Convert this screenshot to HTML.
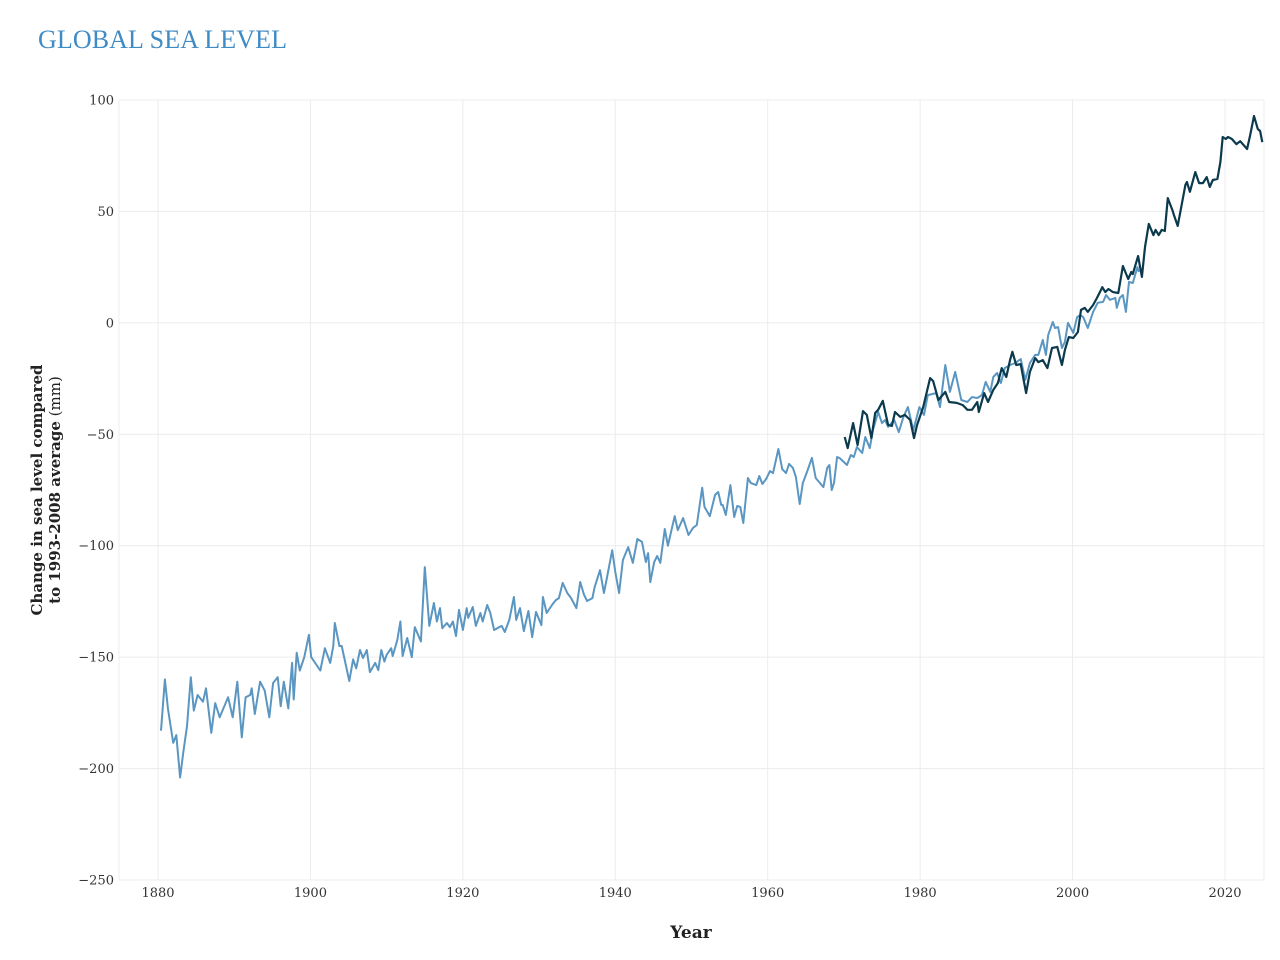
<!DOCTYPE html>
<html><head><meta charset="utf-8"><style>
html,body{margin:0;padding:0;background:#fff;}
body{width:1280px;height:960px;overflow:hidden;position:relative;font-family:"DejaVu Serif","Liberation Serif",serif;}
#title{position:absolute;left:38px;top:25px;font-family:"Liberation Serif",serif;font-size:26px;color:#3f8bc5;letter-spacing:0.1px;}
svg{position:absolute;left:0;top:0;}
</style></head><body>
<div id="title">GLOBAL SEA LEVEL</div>
<svg id="chart" width="1280" height="960"></svg>
<script>
const xTicks=[1880,1900,1920,1940,1960,1980,2000,2020];
const yTicks=[100,50,0,-50,-100,-150,-200,-250];
const histYears=[1880.4,1880.9,1881.3,1882.0,1882.4,1882.9,1883.3,1883.8,1884.3,1884.7,1885.2,1885.9,1886.3,1887.0,1887.5,1888.1,1889.2,1889.8,1890.4,1891.0,1891.5,1892.1,1892.3,1892.7,1893.4,1894.0,1894.6,1895.1,1895.7,1896.1,1896.5,1897.1,1897.6,1897.8,1898.2,1898.6,1899.2,1899.8,1900.1,1901.3,1901.9,1902.6,1903.0,1903.2,1903.8,1904.1,1905.1,1905.6,1906.0,1906.5,1906.9,1907.4,1907.8,1908.5,1908.9,1909.3,1909.7,1910.0,1910.6,1910.8,1911.4,1911.8,1912.1,1912.7,1913.3,1913.7,1914.5,1915.0,1915.6,1916.2,1916.6,1917.0,1917.3,1917.9,1918.3,1918.7,1919.1,1919.5,1920.0,1920.5,1920.7,1921.3,1921.7,1922.3,1922.6,1923.2,1923.6,1924.1,1924.5,1925.1,1925.5,1926.1,1926.7,1927.0,1927.5,1928.0,1928.6,1929.1,1929.6,1930.3,1930.5,1931.0,1931.7,1932.2,1932.6,1933.1,1933.7,1934.2,1934.9,1935.4,1935.9,1936.3,1937.0,1937.3,1938.0,1938.5,1938.9,1939.6,1940.0,1940.5,1941.0,1941.7,1942.3,1942.9,1943.5,1944.0,1944.3,1944.6,1945.1,1945.5,1945.9,1946.5,1946.9,1947.8,1948.2,1948.9,1949.6,1950.2,1950.7,1951.4,1951.7,1952.4,1953.1,1953.5,1953.9,1954.1,1954.5,1955.1,1955.6,1956.0,1956.4,1956.8,1957.4,1957.8,1958.5,1958.9,1959.3,1959.8,1960.3,1960.7,1961.4,1961.9,1962.4,1962.8,1963.3,1963.7,1964.2,1964.6,1965.2,1965.8,1966.3,1967.3,1967.8,1968.1,1968.4,1968.7,1969.1,1969.4,1970.4,1970.9,1971.3,1971.7,1972.4,1972.8,1973.4,1973.8,1974.5,1975.0,1975.4,1975.8,1976.6,1977.2,1977.8,1978.4,1979.1,1979.9,1980.5,1981.0,1982.1,1982.6,1983.3,1983.9,1984.6,1985.4,1986.2,1986.8,1987.5,1988.1,1988.6,1989.2,1989.6,1990.1,1990.6,1991.1,1991.8,1992.5,1993.2,1993.8,1994.4,1995.1,1995.5,1996.1,1996.5,1996.8,1997.4,1997.7,1998.1,1998.6,1999.0,1999.4,2000.1,2000.6,2001.0,2001.4,2002.0,2002.7,2003.3,2004.0,2004.4,2004.9,2005.6,2005.8,2006.2,2006.6,2007.0,2007.4,2007.9,2008.5,2008.7];
const histValues=[-183,-160,-173,-188.5,-185,-204,-193,-181,-159,-174,-167,-170,-164,-184,-170.6,-177,-168,-177,-161,-186,-168,-167,-164,-175.5,-161,-165,-177,-161.6,-159,-172,-161,-173,-152.6,-169,-148,-156,-150,-140,-150,-156,-146,-152.6,-145,-134.7,-145,-145,-160.7,-151,-155,-146.8,-150.4,-146.8,-156.7,-152.6,-155.8,-146.8,-152,-149,-146,-149.5,-142.3,-134,-149.5,-141.4,-150,-136.5,-143,-109.6,-136,-125.7,-134,-128,-137,-134.7,-136.5,-134,-140.5,-128.8,-137.8,-128,-132.4,-127.5,-136,-130.2,-134,-126.6,-130.2,-137.8,-137,-136,-138.7,-133.3,-123,-133.3,-128,-138.3,-129.3,-141,-129.7,-135.6,-123,-130.2,-126.6,-124.4,-123.5,-116.7,-121.2,-123.5,-128,-116.3,-122,-124.8,-123.5,-118.5,-111,-121.2,-114.5,-102,-111.8,-121.2,-106.4,-100.6,-107.7,-97,-98.3,-107.3,-103.3,-116.3,-107.3,-104.6,-107.7,-92.5,-100,-86.7,-93,-87.6,-95.2,-92,-90.7,-74,-82.6,-86.7,-77.2,-75.9,-81.7,-81.7,-86.2,-72.8,-87.1,-82.2,-82.6,-89.8,-69.6,-71.9,-72.8,-68.7,-72.3,-70,-66.5,-67.4,-56.6,-65.6,-67.4,-63.3,-65.1,-69.2,-81.3,-71.9,-66.5,-60.6,-69.6,-73.7,-65.1,-63.8,-75,-71.9,-60.2,-60.6,-63.8,-59.3,-60.2,-55.7,-58.4,-51.2,-56.2,-48.1,-40,-45,-43.6,-46.7,-43.6,-49,-42.2,-37.8,-48.1,-37.8,-41.3,-32.4,-31.5,-37.8,-18.9,-31,-22,-34.6,-35.5,-33.3,-33.7,-32.4,-26.5,-31,-24.3,-22.5,-27,-20.3,-18.9,-18,-16.2,-25.6,-18,-14.4,-14.4,-7.7,-14.4,-5.4,0.4,-2.3,-1.9,-11.3,-8.6,0,-4.5,2.6,3.5,2.6,-2.3,4.9,9,9.4,12.5,10.3,11.2,6.7,11.2,12.5,4.9,18.4,17.9,25,22.8];
const satYears=[1970.1,1970.5,1971.2,1971.8,1972.5,1973.0,1973.6,1974.1,1974.5,1975.1,1975.8,1976.3,1976.7,1977.4,1978.0,1978.7,1979.2,1979.6,1980.4,1981.3,1981.7,1982.4,1983.3,1983.8,1984.8,1985.6,1986.2,1986.8,1987.5,1987.7,1988.4,1988.9,1989.6,1990.2,1990.7,1991.3,1991.8,1992.1,1992.6,1993.2,1993.9,1994.4,1995.1,1995.5,1996.1,1996.7,1997.3,1998.0,1998.6,1999.0,1999.5,2000.1,2000.7,2001.1,2001.6,2002.0,2002.7,2003.2,2003.9,2004.3,2004.7,2005.3,2006.0,2006.6,2007.3,2007.7,2007.9,2008.6,2009.1,2009.5,2010.0,2010.6,2010.9,2011.3,2011.7,2012.1,2012.5,2013.1,2013.3,2013.8,2014.8,2015.0,2015.4,2016.1,2016.6,2017.1,2017.6,2018.0,2018.4,2019.0,2019.4,2019.7,2020.1,2020.4,2020.9,2021.5,2022.0,2022.9,2023.3,2023.8,2024.3,2024.6,2024.9];
const satValues=[-51.2,-56.2,-45,-54.8,-39.6,-41.3,-51.7,-40.4,-39,-35,-45.8,-46.3,-40,-42.2,-41.3,-43.6,-51.7,-45.8,-37.8,-24.8,-26.1,-34.6,-31,-35.5,-35.9,-36.9,-39,-39,-35.5,-40,-31.5,-35.5,-30.1,-27,-20.3,-24.3,-16.6,-13,-18.9,-18.5,-31.5,-22,-15.8,-17.6,-16.7,-20.3,-11.3,-10.8,-18.9,-12.2,-6.4,-6.8,-4.1,5.8,6.7,4.9,8,11.2,16,13.8,15.2,13.8,13.4,25.5,19.7,22.8,21.9,30,20.6,34,44.4,39.4,41.7,39.4,41.7,41.2,56,50.6,48.4,43.5,61.9,63.2,58.8,67.7,62.7,62.7,65.4,61,64.1,64.6,72.2,83.4,82.5,83.4,82.5,80.2,81.5,78,84.3,92.8,87,86.1,81.1];

const L=119,R=1264,T=100,B=880;
const yMin=-250,yMax=100;
const x0=158,xPerYear=(1225-158)/140;
function xs(v){return x0+(v-1880)*xPerYear;}
function ys(v){return B-(v-yMin)/(yMax-yMin)*(B-T);}
const NS='http://www.w3.org/2000/svg';
const svg=document.getElementById('chart');
function mk(tag,attrs,parent){const e=document.createElementNS(NS,tag);for(const k in attrs)e.setAttribute(k,attrs[k]);(parent||svg).appendChild(e);return e;}

const grid=mk('g',{});


mk('line',{x1:L,x2:L,y1:T,y2:B,stroke:'#ececec','stroke-width':1},grid);
mk('line',{x1:R,x2:R,y1:T,y2:B,stroke:'#ececec','stroke-width':1},grid);
yTicks.forEach(v=>{
  mk('line',{x1:L,x2:R,y1:ys(v),y2:ys(v),stroke:'#ececec','stroke-width':1},grid);
  const t=mk('text',{x:114,y:ys(v)+4.5,'text-anchor':'end','font-size':13,fill:'#333','font-family':'"DejaVu Serif","Liberation Serif",serif'});
  t.textContent=(v<0?'\u2212'+Math.abs(v):String(v));
  
  
});
xTicks.forEach(v=>{
  mk('line',{x1:xs(v),x2:xs(v),y1:T,y2:B,stroke:'#ececec','stroke-width':1},grid);
  const t=mk('text',{x:xs(v),y:897,'text-anchor':'middle','font-size':13,fill:'#333','font-family':'"DejaVu Serif","Liberation Serif",serif'});
  t.textContent=String(v);
  
  
});

function series(yrs,vals,color,w,name){
  let d='';
  yrs.forEach((yr,i)=>{d+=(i?'L':'M')+xs(yr).toFixed(1)+','+ys(vals[i]).toFixed(1);});
  const p=mk('path',{d:d,fill:'none',stroke:color,'stroke-width':w,'stroke-linejoin':'round'});
  
  
}
series(histYears,histValues,'#5a96c1',2,'tide-gauge-line');
series(satYears,satValues,'#0b3a4d',2.2,'recent-sea-level-line');

const xt=mk('text',{x:691,y:938,'text-anchor':'middle','font-size':17,'font-weight':'bold',fill:'#222','font-family':'"DejaVu Serif","Liberation Serif",serif'});
xt.textContent='Year';



const yt=mk('text',{transform:'translate(42,490) rotate(-90)','text-anchor':'middle','font-size':15,'font-weight':'bold',fill:'#222','font-family':'"DejaVu Serif","Liberation Serif",serif'});


const s1=mk('tspan',{x:0,dy:0},yt);s1.textContent='Change in sea level compared';
const s2=mk('tspan',{x:0,dy:18},yt);s2.textContent='to 1993-2008 average';
const s3=mk('tspan',{'font-weight':'normal'},yt);s3.textContent=' (mm)';
</script>
</body></html>
